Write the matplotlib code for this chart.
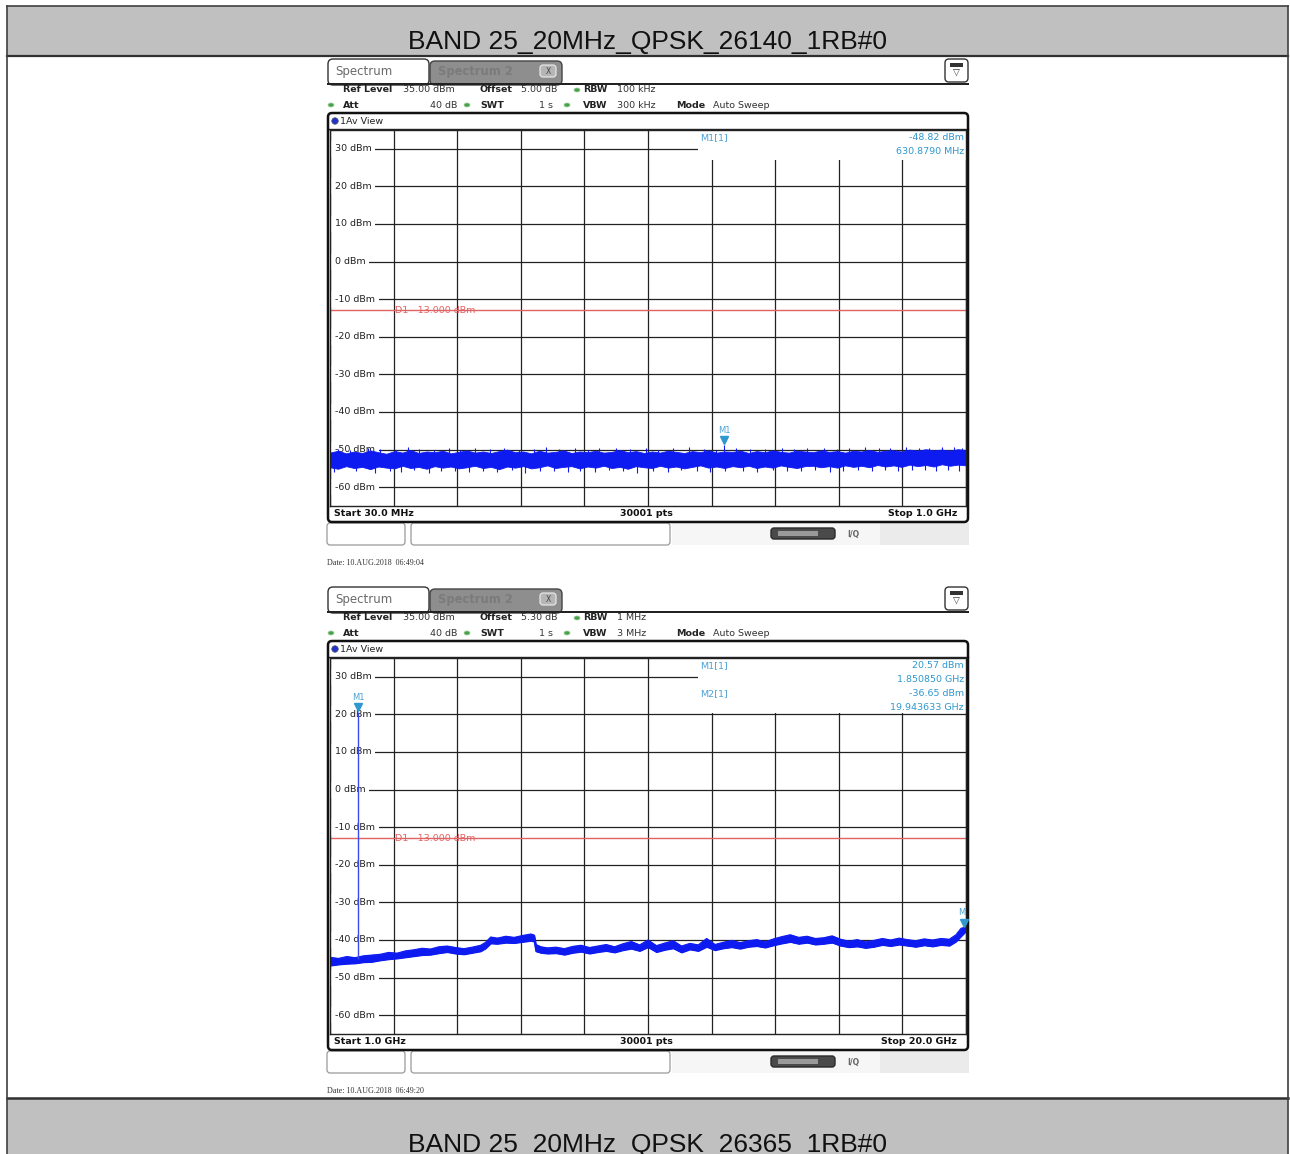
import numpy as np
import matplotlib
matplotlib.use("Agg")
import matplotlib.pyplot as plt
from matplotlib.patches import Rectangle, FancyBboxPatch, Ellipse
import matplotlib.transforms as mtrans

W, H = 1290, 1154

# ------------------------------------------------------------------ data
title_top = "BAND 25_20MHz_QPSK_26140_1RB#0"
title_bottom = "BAND 25_20MHz_QPSK_26365_1RB#0"

level_ticks = [30, 20, 10, 0, -10, -20, -30, -40, -50, -60]
ref_level_dbm = 35.0
bottom_level_dbm = -65.0
display_line_dbm = -13.0

# screen 1 : 30 MHz .. 1 GHz, noise floor envelope (dBm)
s1_start_mhz, s1_stop_mhz = 30.0, 1000.0
s1_upper = [-50.8, -50.3, -51.0, -50.5, -50.9, -50.2, -50.7, -51.1, -50.4, -50.8,
            -50.1, -50.9, -50.5, -50.7, -50.3, -51.0, -50.6, -50.2, -50.8, -50.5,
            -50.9, -50.4, -50.0, -50.7, -50.5, -51.0, -50.3, -50.8, -50.6, -50.2,
            -50.9, -50.5, -50.7, -50.3, -50.8, -50.6, -50.1, -50.7, -50.4, -50.9,
            -50.5, -50.8, -50.3, -50.6, -50.9, -50.4, -50.7, -50.2, -50.8, -50.5,
            -50.6, -50.3, -50.9, -50.4, -50.7, -50.2, -50.6, -50.8, -50.3, -50.5,
            -50.7, -50.2, -50.6, -50.4, -50.8, -50.3, -50.5, -50.1, -50.6, -50.3,
            -50.2, -50.5, -50.0, -50.3, -49.9, -50.2, -50.0, -50.3, -49.9, -50.1]
s1_lower = [-54.7, -55.1, -54.4, -54.9, -54.6, -55.2, -54.5, -54.8, -55.0, -54.3,
            -54.9, -54.6, -55.1, -54.4, -54.8, -54.5, -55.0, -54.7, -54.3, -54.9,
            -54.6, -55.2, -54.5, -54.8, -54.4, -55.0, -54.7, -54.2, -54.9, -54.6,
            -54.4, -55.0, -54.5, -54.8, -54.3, -54.9, -54.6, -55.1, -54.4, -54.7,
            -54.9, -54.3, -54.8, -54.5, -55.0, -54.6, -54.2, -54.8, -54.5, -54.9,
            -54.4, -54.7, -54.3, -54.9, -54.5, -54.8, -54.2, -54.6, -54.9, -54.4,
            -54.3, -54.7, -54.4, -54.8, -54.2, -54.6, -54.3, -54.7, -54.1, -54.5,
            -54.2, -54.6, -54.0, -54.4, -54.1, -54.5, -53.9, -54.3, -54.0, -54.2]
s1_spike_mhz = [42, 61, 88, 107, 130, 149, 166, 188, 212, 229, 251, 274, 296, 318, 341,
                359, 380, 404, 423, 441, 466, 487, 512, 531, 553, 577, 601, 618, 649,
                671, 694, 719, 738, 757, 784, 803, 822, 846, 867, 884, 909, 928, 944,
                963, 981, 994]
s1_spike_top = [-49.8, -50.1, -49.5, -49.9, -50.2, -49.4, -49.9, -50.0, -49.6, -50.1,
                -49.7, -49.9, -49.5, -50.0, -49.8, -49.3, -49.9, -49.6, -50.1, -49.7,
                -49.5, -49.9, -49.7, -50.0, -49.6, -49.4, -49.8, -50.0, -49.6, -49.8,
                -49.9, -49.5, -49.8, -49.6, -49.7, -49.9, -49.5, -49.4, -49.7, -49.6,
                -49.3, -49.5, -49.7, -49.2, -49.4, -49.5]
s1_dip_mhz = [36, 70, 98, 121, 139, 158, 181, 199, 220, 242, 263, 285, 307, 327, 350,
              371, 393, 412, 434, 455, 477, 498, 522, 545, 566, 589, 610, 633, 660, 682,
              705, 727, 748, 770, 792, 813, 835, 857, 876, 897, 918, 937, 955, 972, 989]
s1_dip_bottom = [-56.0, -55.6, -56.2, -55.7, -55.9, -55.5, -56.1, -55.8, -55.6, -56.0,
                 -55.7, -55.9, -55.5, -56.2, -55.8, -55.6, -56.0, -55.7, -55.9, -55.5,
                 -55.8, -56.1, -55.6, -55.9, -55.4, -55.7, -55.9, -55.6, -55.8, -56.0,
                 -55.5, -55.8, -55.7, -55.4, -55.9, -55.6, -55.3, -55.7, -55.5, -55.6,
                 -55.3, -55.5, -55.7, -55.4, -55.6]
s1_marker_names = ["M1"]
s1_marker_freq_mhz = [630.879]
s1_marker_level = [-48.82]

# screen 2 : 1 GHz .. 20 GHz
s2_start_ghz, s2_stop_ghz = 1.0, 20.0
s2_freq_ghz = [1.0, 1.25, 1.5, 1.75, 2.0, 2.25, 2.5, 2.75, 3.0, 3.25, 3.5, 3.75, 4.0, 4.25,
               4.5, 4.75, 5.0, 5.25, 5.5, 5.65, 5.8, 6.0, 6.25, 6.5, 6.75, 7.0, 7.1, 7.15,
               7.3, 7.5, 7.75, 8.0, 8.25, 8.5, 8.75, 9.0, 9.25, 9.5, 9.75, 10.0, 10.25,
               10.5, 10.75, 11.0, 11.25, 11.5, 11.75, 12.0, 12.25, 12.5, 12.75, 13.0,
               13.25, 13.5, 13.75, 14.0, 14.25, 14.5, 14.75, 15.0, 15.25, 15.5, 15.75,
               16.0, 16.25, 16.5, 16.75, 17.0, 17.25, 17.5, 17.75, 18.0, 18.25, 18.5,
               18.75, 19.0, 19.25, 19.5, 19.7, 19.85, 19.94, 20.0]
s2_upper = [-44.6, -44.9, -44.4, -44.7, -44.2, -44.0, -43.8, -43.3, -43.5, -42.9, -42.6,
            -42.2, -42.4, -41.8, -41.6, -42.0, -42.3, -41.9, -41.4, -40.6, -39.2, -39.5,
            -39.0, -39.3, -38.8, -38.4, -38.7, -41.2, -41.8, -42.1, -41.9, -42.3, -41.7,
            -41.4, -42.0, -41.6, -41.2, -41.8, -41.0, -40.4, -41.3, -40.0, -41.5, -40.8,
            -40.2, -41.6, -40.9, -41.3, -39.6, -41.2, -40.6, -40.1, -40.7, -40.2, -39.9,
            -40.5, -39.7, -39.1, -38.6, -39.3, -39.0, -39.6, -39.4, -38.9, -39.8, -40.3,
            -39.9, -40.5, -40.1, -39.6, -40.0, -39.5, -39.9, -40.2, -39.7, -40.0, -39.6,
            -39.8, -38.6, -36.9, -36.65, -35.8]
s2_lower = [-46.8, -46.5, -46.3, -46.2, -45.9, -45.8, -45.4, -45.1, -44.9, -44.6, -44.3,
            -44.0, -43.9, -43.5, -43.2, -43.6, -43.8, -43.4, -43.0, -42.2, -40.9, -41.0,
            -40.7, -40.8, -40.5, -40.2, -40.4, -43.0, -43.4, -43.6, -43.5, -43.9, -43.4,
            -43.1, -43.6, -43.2, -42.9, -43.3, -42.7, -42.3, -42.9, -41.9, -43.2, -42.6,
            -42.2, -43.3, -42.5, -42.9, -41.8, -42.7, -42.2, -41.9, -42.3, -41.8, -41.6,
            -42.0, -41.4, -40.9, -40.5, -41.0, -40.7, -41.2, -41.0, -40.7, -41.5, -41.9,
            -41.7, -42.1, -41.8, -41.3, -41.6, -41.2, -41.5, -41.8, -41.4, -41.7, -41.3,
            -41.5, -40.4, -39.0, -38.2, -37.6]
s2_marker_names = ["M1", "M2"]
s2_marker_freq_ghz = [1.850850, 19.943633]
s2_marker_level = [20.57, -36.65]
s2_carrier_floor = -45.0

# ------------------------------------------------------------------ style
BLUE = "#0d1bf0"
MK = "#2e98cf"
MKT = "#4aa2d6"
RED = "#e06262"
DARK = "#222222"
FS = 6.8

fig = plt.figure(figsize=(W / 100, H / 100), dpi=100)
bg = fig.add_axes([0, 0, 1, 1])
bg.set_xlim(0, W)
bg.set_ylim(H, 0)
bg.axis("off")


def px_rect(x0, y0, x1, y1):
    return [x0 / W, 1 - y1 / H, (x1 - x0) / W, (y1 - y0) / H]


def rbox(x, y, w, h, r, **kw):
    p = FancyBboxPatch((x, y), w, h, boxstyle=f"round,pad=0,rounding_size={r}", **kw)
    bg.add_patch(p)
    return p


# ------------------------------------------------------------------ table
bg.add_patch(Rectangle((7, 6), 1281, 50, fc="#c0c0c0", ec="none"))
bg.add_patch(Rectangle((7, 1098), 1281, 70, fc="#c0c0c0", ec="none"))
bg.plot([7, 1288], [6, 6], color="#404040", lw=1.2)
bg.plot([7, 1288], [56, 56], color="#303030", lw=1.6)
bg.plot([7, 1288], [1098, 1098], color="#303030", lw=1.8)
bg.plot([7, 7], [6, 1160], color="#404040", lw=1.2)
bg.plot([1288, 1288], [6, 1160], color="#404040", lw=1.2)
bg.text(648, 49, title_top, ha="center", va="baseline", fontsize=19,
        family="Liberation Sans", color="#111111")
bg.text(648, 1152, title_bottom, ha="center", va="baseline", fontsize=19,
        family="Liberation Sans", color="#111111")


def green_dot(x, y):
    bg.add_patch(Ellipse((x, y), 6, 4, fc="#49a24a", ec="#9ccf9c", lw=0.5))


def draw_screen(o, start, stop, info, bottom_labels, date_text, box_bottom):
    # tabs
    rbox(328, 59 + o, 101, 26, 5, fc="white", ec="#333333", lw=1.0, zorder=2)
    rbox(430, 61 + o, 132, 24, 5, fc="#8e8e8e", ec="#444444", lw=1.0, zorder=2)
    bg.text(335, 71 + o, "Spectrum", fontsize=8.5, color="#6a6a6a", va="center", zorder=3)
    bg.text(438, 72 + o, "Spectrum 2", fontsize=8.3, color="#7b7b7b", va="center",
            fontweight="bold", zorder=3)
    rbox(540, 65 + o, 16, 12, 3, fc="#b5b5b5", ec="#eeeeee", lw=0.8, zorder=3)
    bg.text(548, 71 + o, "X", fontsize=5.5, color="#444444", ha="center", va="center", zorder=4)
    bg.add_patch(Rectangle((327, 83 + o), 642, 2, fc=DARK, ec="none", zorder=4))
    # icon
    rbox(945, 59 + o, 23, 23, 4, fc="white", ec="#333333", lw=1.0, zorder=2)
    bg.add_patch(Rectangle((950, 63 + o), 13, 4, fc="#333333", ec="none", zorder=3))
    bg.text(956.5, 73 + o, "\u25bd", fontsize=6.5, ha="center", va="center", color="#333333", zorder=3)

    # info rows
    r1, r2 = 90 + o, 105 + o
    bg.text(343, r1, "Ref Level", fontsize=FS, fontweight="bold", va="center", color=DARK)
    bg.text(403, r1, info["ref"], fontsize=FS, va="center", color="#333333")
    bg.text(480, r1, "Offset", fontsize=FS, fontweight="bold", va="center", color=DARK)
    bg.text(521, r1, info["offset"], fontsize=FS, va="center", color="#333333")
    green_dot(577, r1)
    bg.text(583, r1, "RBW", fontsize=FS, fontweight="bold", va="center", color=DARK)
    bg.text(617, r1, info["rbw"], fontsize=FS, va="center", color="#333333")
    green_dot(331, r2)
    bg.text(343, r2, "Att", fontsize=FS, fontweight="bold", va="center", color=DARK)
    bg.text(457, r2, "40 dB", fontsize=FS, va="center", ha="right", color="#333333")
    green_dot(467, r2)
    bg.text(480, r2, "SWT", fontsize=FS, fontweight="bold", va="center", color=DARK)
    bg.text(553, r2, "1 s", fontsize=FS, va="center", ha="right", color="#333333")
    green_dot(567, r2)
    bg.text(583, r2, "VBW", fontsize=FS, fontweight="bold", va="center", color=DARK)
    bg.text(617, r2, info["vbw"], fontsize=FS, va="center", color="#333333")
    bg.text(676, r2, "Mode", fontsize=FS, fontweight="bold", va="center", color=DARK)
    bg.text(713, r2, "Auto Sweep", fontsize=FS, va="center", color="#333333")

    # plot frame
    rbox(328, 113 + o, 640, 409, 4, fc="none", ec="#111111", lw=1.8, zorder=5)
    bg.plot([328, 968], [129 + o, 129 + o], color=DARK, lw=1.0)
    bg.add_patch(Ellipse((335, 121 + o), 6.5, 6.5, fc="#2233cc", ec="#555555", lw=0.5))
    bg.text(340, 121 + o, "1Av View", fontsize=FS, va="center", color=DARK)
    bg.text(334, 514 + o, bottom_labels[0], fontsize=FS, fontweight="bold", va="center", color="#111111")
    bg.text(646, 514 + o, bottom_labels[1], fontsize=FS, fontweight="bold", va="center",
            ha="center", color="#111111")
    bg.text(957, 514 + o, bottom_labels[2], fontsize=FS, fontweight="bold", va="center",
            ha="right", color="#111111")

    # status row
    bg.add_patch(Rectangle((672, 523 + o), 297, 22, fc="#f6f6f6", ec="none"))
    bg.add_patch(Rectangle((880, 523 + o), 89, 22, fc="#ebebeb", ec="none"))
    rbox(327, 523 + o, 78, 22, 3, fc="white", ec="#9a9a9a", lw=0.9)
    rbox(411, 523 + o, 259, 22, 3, fc="white", ec="#9a9a9a", lw=0.9)
    rbox(771, 528 + o, 64, 11, 3, fc="#4a4a4a", ec="#2a2a2a", lw=1.0)
    bg.add_patch(Rectangle((778, 531 + o), 40, 5, fc="#9a9a9a", ec="none"))
    bg.text(847, 534 + o, "I/Q", fontsize=5.5, color="#666666", va="center", fontweight="bold")
    bg.text(327, 563 + o, date_text, fontsize=5.8, family="Liberation Serif", va="center",
            color="#333333")

    # data axes
    ax = fig.add_axes(px_rect(330, 130 + o, 966, 506 + o))
    ax.set_xlim(start, stop)
    ax.set_ylim(bottom_level_dbm, ref_level_dbm)
    ax.set_xticks(np.linspace(start, stop, 11))
    ax.set_yticks(level_ticks)
    ax.set_axisbelow(True)
    ax.grid(True, color=DARK, lw=0.9)
    ax.tick_params(length=0, labelbottom=False, labelleft=False)
    for s in ax.spines.values():
        s.set_color(DARK)
        s.set_linewidth(1.0)
    pix = bg.transData
    ax.add_patch(Rectangle((698, 131 + o), 268, box_bottom - (131 + o), transform=pix,
                           fc="white", ec="none", zorder=1))
    lab_tr = mtrans.blended_transform_factory(pix, ax.transData)
    for lv in level_ticks:
        ax.text(335, lv, f"{lv} dBm", transform=lab_tr, fontsize=FS, va="center",
                color=DARK, zorder=1.5,
                bbox=dict(fc="white", ec="none", pad=2.6))
    ax.axhline(display_line_dbm, color=RED, lw=1.0, zorder=1.6)
    ax.text(395, display_line_dbm, "D1  -13.000 dBm", transform=lab_tr, fontsize=FS,
            va="center", color=RED, zorder=1.7)
    return ax, pix


def draw_marker(ax, name, f, lv):
    up = mtrans.ScaledTranslation(0, 3.5 / 72, fig.dpi_scale_trans)
    ax.plot([f], [lv], marker="v", ms=5.5, color=MK, transform=ax.transData + up,
            zorder=4, clip_on=False)
    ax.annotate(name, (f, lv), xytext=(0, 10.5), textcoords="offset points",
                ha="center", va="center", fontsize=6.0, color=MKT, zorder=4,
                annotation_clip=False, clip_on=True)


# ------------------------------------------------------------------ screen 1
ax1, pix = draw_screen(0, s1_start_mhz, s1_stop_mhz,
                       dict(ref="35.00 dBm", offset="5.00 dB", rbw="100 kHz", vbw="300 kHz"),
                       ("Start 30.0 MHz", "30001 pts", "Stop 1.0 GHz"),
                       "Date: 10.AUG.2018  06:49:04", 160)
f1 = np.linspace(s1_start_mhz, s1_stop_mhz, len(s1_upper))
ax1.fill_between(f1, s1_lower, s1_upper, color=BLUE, lw=0.6, zorder=2)
mid1 = [(u + l) / 2 for u, l in zip(s1_upper, s1_lower)]
ax1.vlines(s1_spike_mhz, np.interp(s1_spike_mhz, f1, mid1), s1_spike_top, color=BLUE, lw=0.8, zorder=2)
ax1.vlines(s1_dip_mhz, s1_dip_bottom, np.interp(s1_dip_mhz, f1, mid1), color=BLUE, lw=0.8, zorder=2)
ax1.vlines(s1_marker_freq_mhz, np.interp(s1_marker_freq_mhz, f1, mid1), s1_marker_level,
           color=BLUE, lw=0.8, zorder=2)
for n, f, lv in zip(s1_marker_names, s1_marker_freq_mhz, s1_marker_level):
    draw_marker(ax1, n, f, lv)
ax1.text(700, 138, f"{s1_marker_names[0]}[1]", transform=pix, fontsize=FS, color=MKT, va="center", zorder=3)
ax1.text(964, 138, f"{s1_marker_level[0]:.2f} dBm", transform=pix, fontsize=FS, color=MK,
         va="center", ha="right", zorder=3)
ax1.text(964, 152, f"{s1_marker_freq_mhz[0]:.4f} MHz", transform=pix, fontsize=FS, color=MK,
         va="center", ha="right", zorder=3)

# ------------------------------------------------------------------ screen 2
o2 = 528
ax2, pix = draw_screen(o2, s2_start_ghz, s2_stop_ghz,
                       dict(ref="35.00 dBm", offset="5.30 dB", rbw="1 MHz", vbw="3 MHz"),
                       ("Start 1.0 GHz", "30001 pts", "Stop 20.0 GHz"),
                       "Date: 10.AUG.2018  06:49:20", 713)
ax2.fill_between(s2_freq_ghz, s2_lower, s2_upper, color=BLUE, lw=0.8, zorder=2)
ax2.plot(s2_freq_ghz, s2_upper, color=BLUE, lw=0.8, zorder=2)
ax2.plot(s2_freq_ghz, s2_lower, color=BLUE, lw=0.8, zorder=2)
ax2.vlines([s2_marker_freq_ghz[0]], s2_carrier_floor, s2_marker_level[0], color="#3a48f0",
           lw=1.0, zorder=2)
for n, f, lv in zip(s2_marker_names, s2_marker_freq_ghz, s2_marker_level):
    draw_marker(ax2, n, f, lv)
rows = [(666, 680), (694, 708)]
for (ya, yb), n, f, lv in zip(rows, s2_marker_names, s2_marker_freq_ghz, s2_marker_level):
    ax2.text(700, ya, f"{n}[1]", transform=pix, fontsize=FS, color=MKT, va="center", zorder=3)
    ax2.text(964, ya, f"{lv:.2f} dBm", transform=pix, fontsize=FS, color=MK,
             va="center", ha="right", zorder=3)
    ax2.text(964, yb, f"{f:.6f} GHz", transform=pix, fontsize=FS, color=MK,
             va="center", ha="right", zorder=3)

fig.savefig("out.png", dpi=100)
